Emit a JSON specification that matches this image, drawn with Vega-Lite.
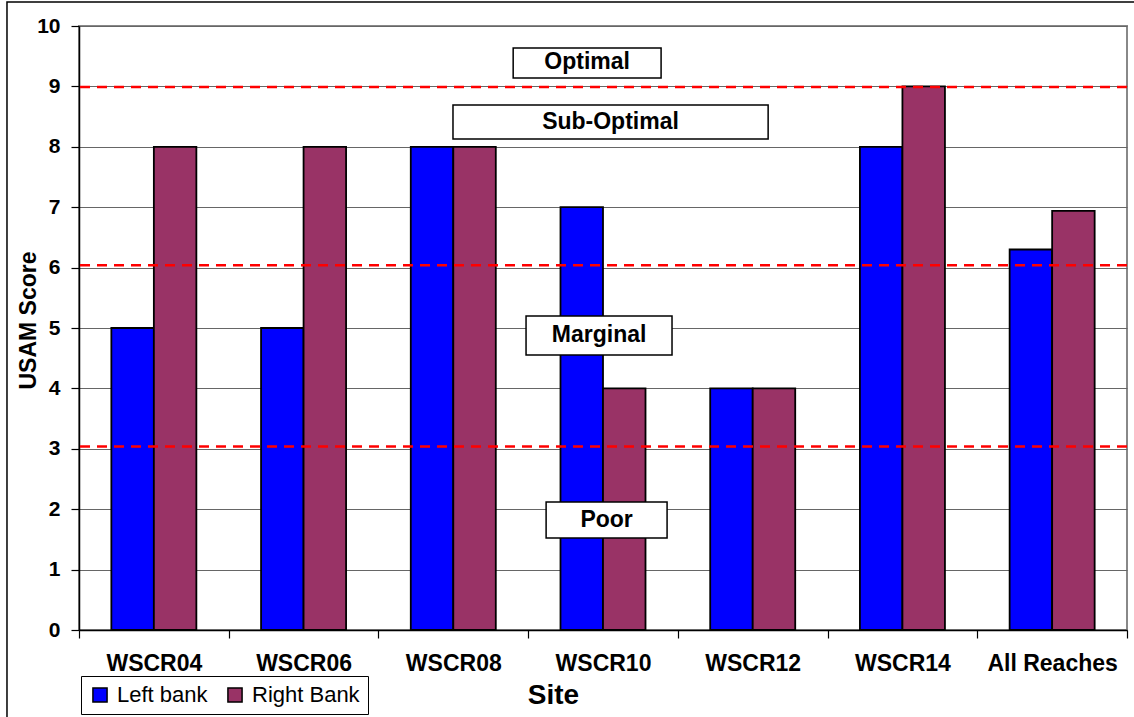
{
  "$schema": "https://vega.github.io/schema/vega-lite/v6.json",
  "width": 1048,
  "height": 604,
  "autosize": {"type": "none"},
  "padding": {"left": 79, "top": 26, "right": 7, "bottom": 87},
  "background": "white",
  "config": {
    "view": {"stroke": "#888888", "strokeWidth": 2},
    "font": "Liberation Sans",
    "axisY": {
      "titleFontSize": 23, "titleFontWeight": "bold", "titleColor": "black",
      "titleX": -44, "titleY": 294, "titleBaseline": "alphabetic", "titleAlign": "center",
      "tickCount": 10, "format": "d",
      "labelFontSize": 21, "labelFontWeight": "bold", "labelColor": "black", "labelPadding": 11,
      "tickSize": 8, "tickColor": "black", "tickWidth": 1.2, "domainColor": "black", "domainWidth": 1.5,
      "grid": true, "gridColor": "#666666", "gridWidth": 1.2
    },
    "axisX": {
      "titleFontSize": 28, "titleFontWeight": "bold", "titleColor": "black",
      "titleX": 474, "titleY": 73, "titleBaseline": "alphabetic", "titleAlign": "center",
      "labelAngle": 0, "labelFontSize": 23, "labelFontWeight": "bold", "labelColor": "black",
      "labelPadding": 14, "tickSize": 8, "tickColor": "black", "domainColor": "black",
      "domainWidth": 1.5, "tickWidth": 1.2, "tickBand": "extent", "grid": false
    }
  },
  "resolve": {"scale": {"x": "independent"}},
  "layer": [
    {
      "data": {"values": [
        {"site": "WSCR04", "bank": "Left bank", "score": 5},
        {"site": "WSCR04", "bank": "Right Bank", "score": 8},
        {"site": "WSCR06", "bank": "Left bank", "score": 5},
        {"site": "WSCR06", "bank": "Right Bank", "score": 8},
        {"site": "WSCR08", "bank": "Left bank", "score": 8},
        {"site": "WSCR08", "bank": "Right Bank", "score": 8},
        {"site": "WSCR10", "bank": "Left bank", "score": 7},
        {"site": "WSCR10", "bank": "Right Bank", "score": 4},
        {"site": "WSCR12", "bank": "Left bank", "score": 4},
        {"site": "WSCR12", "bank": "Right Bank", "score": 4},
        {"site": "WSCR14", "bank": "Left bank", "score": 8},
        {"site": "WSCR14", "bank": "Right Bank", "score": 9},
        {"site": "All Reaches", "bank": "Left bank", "score": 6.3},
        {"site": "All Reaches", "bank": "Right Bank", "score": 6.94}
      ]},
      "mark": {"type": "bar", "stroke": "black", "strokeWidth": 1.8},
      "encoding": {
        "x": {
          "field": "site", "type": "nominal", "sort": null, "title": "Site",
          "scale": {"paddingInner": 0, "paddingOuter": 0}
        },
        "xOffset": {
          "field": "bank", "type": "nominal", "sort": ["Left bank", "Right Bank"],
          "scale": {"paddingInner": 0, "paddingOuter": 0.761}
        },
        "y": {
          "field": "score", "type": "quantitative", "title": "USAM Score",
          "scale": {"domain": [0, 10], "nice": false}
        },
        "color": {
          "field": "bank", "type": "nominal",
          "scale": {"domain": ["Left bank", "Right Bank"], "range": ["#0000FF", "#993366"]},
          "legend": {
            "title": null, "orient": "none", "legendX": 2, "legendY": 650, "direction": "horizontal",
            "strokeColor": "black", "fillColor": "white", "padding": 8,
            "labelFontSize": 22, "labelColor": "black", "labelFont": "Liberation Sans",
            "symbolType": "square", "symbolSize": 200, "symbolStrokeColor": "black", "symbolStrokeWidth": 1.5,
            "symbolOpacity": 1, "labelOffset": 6, "columnPadding": 16
          }
        }
      }
    },
    {
      "data": {"values": [{"level": 3.04}, {"level": 6.04}, {"level": 8.99}]},
      "mark": {"type": "rule", "color": "#FF0000", "strokeWidth": 2.5, "strokeDash": [10, 7]},
      "encoding": {
        "y": {"field": "level", "type": "quantitative", "title": "USAM Score", "scale": {"domain": [0, 10], "nice": false}}
      }
    },
    {
      "data": {"values": [
        {"label": "Optimal", "x1": 2.9, "x2": 3.888, "y1": 9.636, "y2": 9.139, "xc": 3.394, "yc": 9.40},
        {"label": "Sub-Optimal", "x1": 2.498, "x2": 4.603, "y1": 8.69, "y2": 8.13, "xc": 3.55, "yc": 8.41},
        {"label": "Marginal", "x1": 2.986, "x2": 3.961, "y1": 5.199, "y2": 4.553, "xc": 3.474, "yc": 4.88},
        {"label": "Poor", "x1": 3.12, "x2": 3.928, "y1": 2.119, "y2": 1.523, "xc": 3.524, "yc": 1.82}
      ]},
      "layer": [
        {
          "mark": {"type": "rect", "fill": "white", "stroke": "black", "strokeWidth": 1.5},
          "encoding": {
            "x": {"field": "x1", "type": "quantitative", "scale": {"domain": [0, 7], "nice": false, "zero": false}, "axis": null},
            "x2": {"field": "x2"},
            "y": {"field": "y1", "type": "quantitative", "title": "USAM Score", "scale": {"domain": [0, 10], "nice": false}},
            "y2": {"field": "y2"}
          }
        },
        {
          "mark": {"type": "text", "fontSize": 23, "fontWeight": "bold", "color": "black", "baseline": "middle", "align": "center"},
          "encoding": {
            "x": {"field": "xc", "type": "quantitative", "scale": {"domain": [0, 7], "nice": false, "zero": false}, "axis": null},
            "y": {"field": "yc", "type": "quantitative", "title": "USAM Score", "scale": {"domain": [0, 10], "nice": false}},
            "text": {"field": "label"}
          }
        }
      ]
    },
    {
      "data": {"values": [{"left": -0.481, "right": 7.3, "top": 10.397, "bottom": -1.8}]},
      "mark": {"type": "rect", "fill": null, "stroke": "black", "strokeWidth": 1.5, "clip": false},
      "encoding": {
        "x": {"field": "left", "type": "quantitative", "scale": {"domain": [0, 7], "nice": false, "zero": false}, "axis": null},
        "x2": {"field": "right"},
        "y": {"field": "top", "type": "quantitative", "title": "USAM Score", "scale": {"domain": [0, 10], "nice": false}},
        "y2": {"field": "bottom"}
      }
    }
  ]
}
